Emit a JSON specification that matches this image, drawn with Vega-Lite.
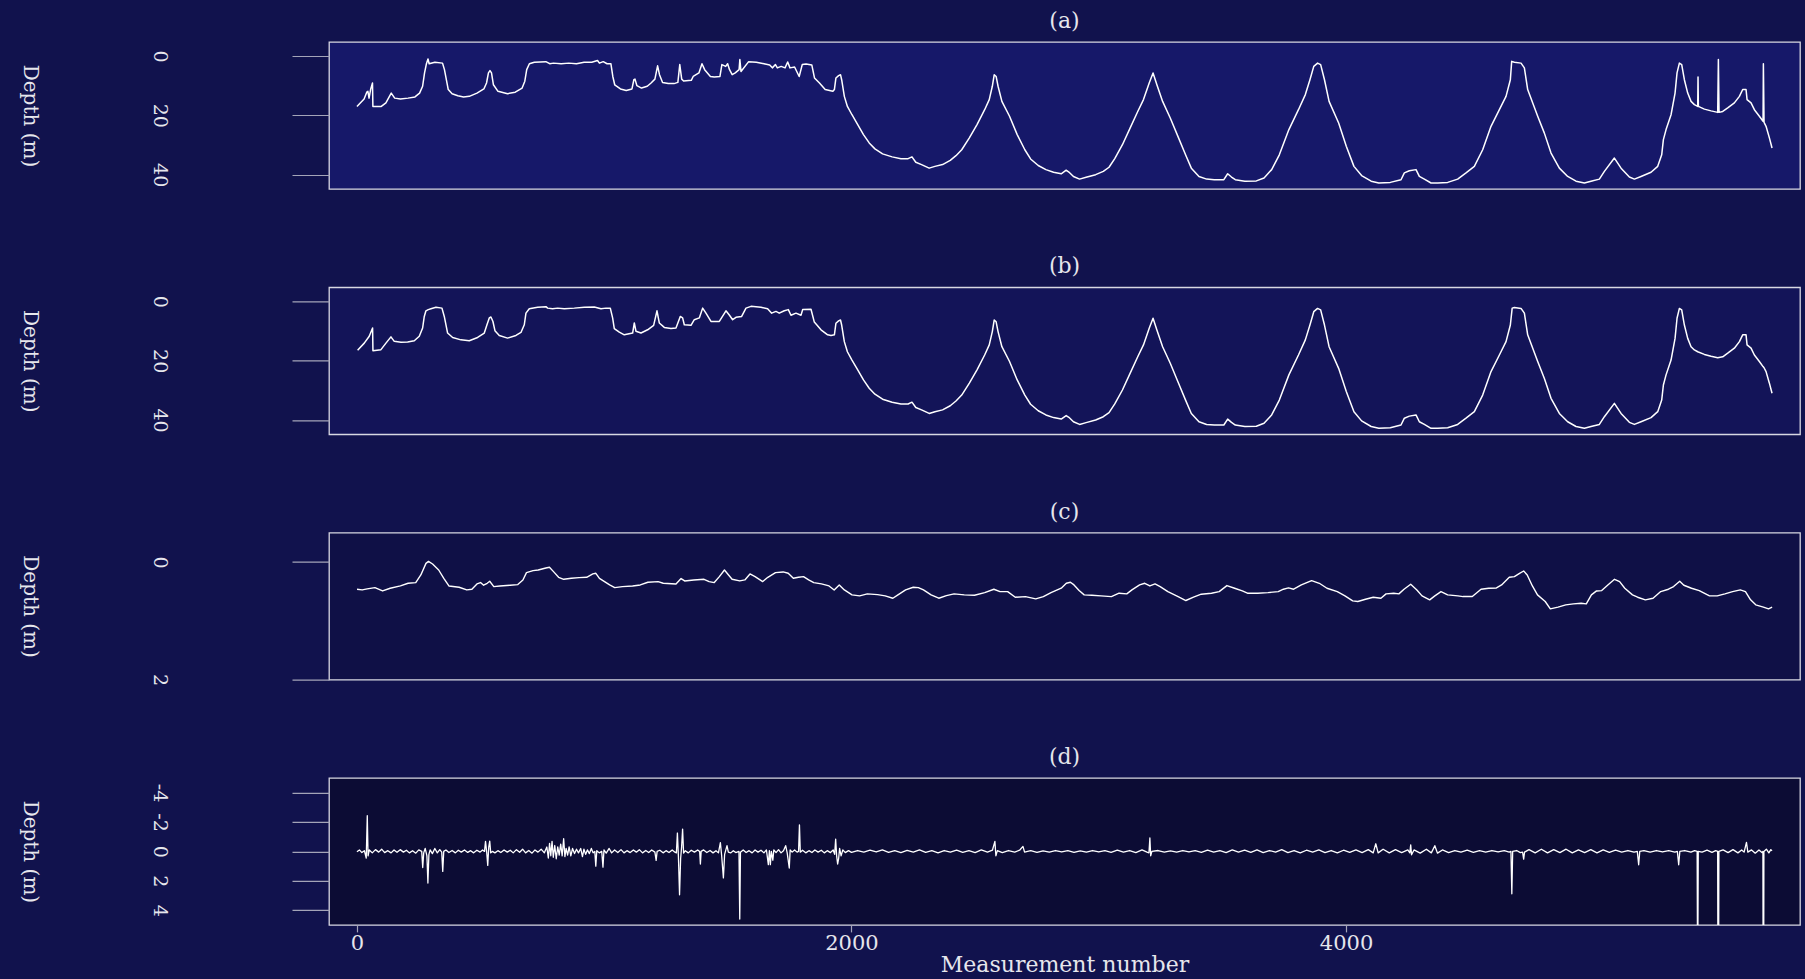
{
"$schema":"https://vega.github.io/schema/vega-lite/v6.json",
"background":"#11124d",
"autosize":{"type":"pad"},
"padding":{"left":18,"top":9,"right":5,"bottom":4},
"spacing":98.3,
"bounds":"flush",
"config":{
 "font":"DejaVu Serif",
 "axis":{"domain":false,"grid":false,"tickColor":"#a4a4b8","tickWidth":1.2,"labelColor":"#e6e6ec","titleColor":"#e6e6ec","labelFont":"DejaVu Serif","titleFont":"DejaVu Serif","labelFontSize":19,"titleFontSize":20,"titleFontWeight":"normal","labelFlush":false,"labelOverlap":false,"labelBound":false},
 "axisY":{"tickSize":37,"labelAngle":90,"labelAlign":"center","labelBaseline":"middle","labelPadding":133,"titleAngle":90,"titleX":-300,"titleY":73.5,"titleAlign":"center","titleBaseline":"middle","labelExpr":"'' + datum.value"},
 "axisX":{"tickSize":7,"labelPadding":1,"labelFontSize":21,"titleFontSize":22,"titleY":40,"titleBaseline":"middle","format":"d"},
 "title":{"font":"DejaVu Serif","fontSize":22,"fontWeight":"normal","color":"#e6e6ec","baseline":"middle","offset":9,"frame":"group","anchor":"middle"}
},
"datasets":{
"a":[{"n":0,"depth":17.0},{"n":28.9,"depth":14.5},{"n":39.7,"depth":12.2},{"n":44.3,"depth":11.9},{"n":49,"depth":14.2},{"n":55.2,"depth":11.3},{"n":62.9,"depth":9.1},{"n":64.5,"depth":17.0},{"n":98.5,"depth":17.0},{"n":117.1,"depth":15.8},{"n":138.7,"depth":12.5},{"n":152.7,"depth":14.2},{"n":175.9,"depth":14.5},{"n":206.8,"depth":14.2},{"n":234.7,"depth":13.8},{"n":253.3,"depth":12.5},{"n":265.6,"depth":10.2},{"n":273.4,"depth":5.7},{"n":281.1,"depth":2.6},{"n":287.3,"depth":1.0},{"n":292,"depth":2.6},{"n":315.2,"depth":2.1},{"n":346.1,"depth":2.4},{"n":353.9,"depth":4.6},{"n":369.3,"depth":11.3},{"n":384.8,"depth":12.7},{"n":408,"depth":13.4},{"n":431.2,"depth":13.8},{"n":454.4,"depth":13.6},{"n":485.4,"depth":12.5},{"n":513.3,"depth":11.1},{"n":524.1,"depth":9.1},{"n":531.8,"depth":5.7},{"n":538,"depth":4.9},{"n":544.2,"depth":5.7},{"n":552,"depth":9.7},{"n":570.5,"depth":11.9},{"n":609.2,"depth":12.7},{"n":640.2,"depth":12.2},{"n":668,"depth":10.8},{"n":678.9,"depth":8.5},{"n":686.6,"depth":4.6},{"n":697.4,"depth":2.6},{"n":717.5,"depth":2.1},{"n":764,"depth":1.9},{"n":779.4,"depth":2.6},{"n":794.9,"depth":2.4},{"n":825.9,"depth":2.6},{"n":856.8,"depth":2.4},{"n":887.8,"depth":2.6},{"n":918.7,"depth":2.1},{"n":949.7,"depth":2.1},{"n":972.9,"depth":1.5},{"n":980.6,"depth":2.4},{"n":996,"depth":1.9},{"n":1011.6,"depth":2.6},{"n":1027,"depth":2.6},{"n":1034.8,"depth":6.9},{"n":1042.5,"depth":9.7},{"n":1065.7,"depth":11.1},{"n":1089,"depth":11.6},{"n":1112.2,"depth":11.1},{"n":1119.9,"depth":8.0},{"n":1124.5,"depth":7.8},{"n":1132.3,"depth":10.0},{"n":1150.9,"depth":10.8},{"n":1174.1,"depth":10.2},{"n":1189.5,"depth":9.1},{"n":1205,"depth":7.8},{"n":1215.9,"depth":3.3},{"n":1223.6,"depth":6.3},{"n":1236,"depth":8.9},{"n":1259.2,"depth":9.3},{"n":1282.4,"depth":9.3},{"n":1297.9,"depth":8.9},{"n":1305.6,"depth":2.9},{"n":1313.4,"depth":7.8},{"n":1321.1,"depth":8.4},{"n":1352.1,"depth":8.2},{"n":1359.8,"depth":6.9},{"n":1383,"depth":5.7},{"n":1395.4,"depth":2.6},{"n":1406.2,"depth":4.6},{"n":1429.4,"depth":6.9},{"n":1445,"depth":7.1},{"n":1468.1,"depth":6.9},{"n":1475.9,"depth":2.9},{"n":1491.3,"depth":3.5},{"n":1499.1,"depth":2.6},{"n":1506.8,"depth":4.6},{"n":1517.6,"depth":6.3},{"n":1530,"depth":5.7},{"n":1545.5,"depth":4.6},{"n":1548.6,"depth":1.2},{"n":1553.2,"depth":5.2},{"n":1584.2,"depth":1.9},{"n":1615.1,"depth":2.1},{"n":1646.1,"depth":2.6},{"n":1669.3,"depth":3.0},{"n":1680.1,"depth":4.0},{"n":1692.5,"depth":2.9},{"n":1700.2,"depth":4.0},{"n":1715.7,"depth":3.5},{"n":1731.2,"depth":4.0},{"n":1742,"depth":2.0},{"n":1751.3,"depth":4.0},{"n":1769.9,"depth":3.7},{"n":1788.5,"depth":6.9},{"n":1800.9,"depth":2.9},{"n":1816.3,"depth":2.7},{"n":1839.5,"depth":3.0},{"n":1850.4,"depth":7.4},{"n":1870.5,"depth":9.1},{"n":1893.7,"depth":11.3},{"n":1924.7,"depth":11.9},{"n":1930.9,"depth":11.3},{"n":1937.1,"depth":7.4},{"n":1947.9,"depth":6.6},{"n":1955.6,"depth":6.3},{"n":1960.3,"depth":8.0},{"n":1971.1,"depth":13.6},{"n":1983.5,"depth":17.0},{"n":2002,"depth":19.8},{"n":2025.2,"depth":23.1},{"n":2048.5,"depth":26.5},{"n":2071.7,"depth":29.3},{"n":2094.9,"depth":31.3},{"n":2125.8,"depth":33.0},{"n":2164.5,"depth":34.0},{"n":2200.1,"depth":34.6},{"n":2229.1,"depth":34.6},{"n":2244.6,"depth":34.0},{"n":2260.1,"depth":35.8},{"n":2283.3,"depth":36.6},{"n":2314.2,"depth":37.8},{"n":2337.5,"depth":37.2},{"n":2368.4,"depth":36.6},{"n":2399.4,"depth":35.2},{"n":2422.6,"depth":33.6},{"n":2445.8,"depth":31.6},{"n":2476.7,"depth":27.6},{"n":2507.7,"depth":23.1},{"n":2538.6,"depth":18.1},{"n":2557.2,"depth":14.7},{"n":2569.6,"depth":10.2},{"n":2577.3,"depth":6.3},{"n":2585,"depth":6.9},{"n":2592.8,"depth":10.2},{"n":2608.3,"depth":15.3},{"n":2639.2,"depth":20.3},{"n":2670.2,"depth":26.5},{"n":2701.1,"depth":31.6},{"n":2724.4,"depth":34.7},{"n":2755.3,"depth":36.9},{"n":2786.3,"depth":38.3},{"n":2817.2,"depth":39.2},{"n":2848.2,"depth":39.7},{"n":2868.3,"depth":38.5},{"n":2879.1,"depth":39.1},{"n":2897.7,"depth":40.6},{"n":2922.5,"depth":41.5},{"n":2948.8,"depth":40.9},{"n":2987.5,"depth":40.0},{"n":3018.4,"depth":38.9},{"n":3041.6,"depth":37.5},{"n":3064.8,"depth":34.6},{"n":3095.8,"depth":29.9},{"n":3126.7,"depth":24.3},{"n":3157.7,"depth":18.7},{"n":3180.9,"depth":14.7},{"n":3204.1,"depth":9.1},{"n":3219.6,"depth":5.7},{"n":3235.1,"depth":9.7},{"n":3258.3,"depth":15.3},{"n":3289.2,"depth":20.9},{"n":3320.2,"depth":27.1},{"n":3351.1,"depth":33.3},{"n":3374.4,"depth":37.8},{"n":3405.3,"depth":40.6},{"n":3436.3,"depth":41.5},{"n":3467.2,"depth":41.7},{"n":3505.9,"depth":41.7},{"n":3521.4,"depth":39.7},{"n":3536.8,"depth":40.8},{"n":3552.3,"depth":41.7},{"n":3591,"depth":42.2},{"n":3637.4,"depth":42.1},{"n":3668.4,"depth":41.1},{"n":3699.3,"depth":38.3},{"n":3730.3,"depth":33.3},{"n":3769,"depth":24.8},{"n":3807.7,"depth":18.1},{"n":3835.5,"depth":13.0},{"n":3854.1,"depth":8.0},{"n":3869.6,"depth":3.5},{"n":3885,"depth":2.4},{"n":3897.4,"depth":2.9},{"n":3912.9,"depth":8.0},{"n":3931.5,"depth":15.3},{"n":3970.2,"depth":22.6},{"n":4001.1,"depth":30.4},{"n":4032.1,"depth":37.2},{"n":4063,"depth":40.3},{"n":4101.7,"depth":42.2},{"n":4132.7,"depth":42.8},{"n":4179.1,"depth":42.6},{"n":4222.4,"depth":41.7},{"n":4235.9,"depth":39.4},{"n":4256.1,"depth":38.7},{"n":4283.1,"depth":38.3},{"n":4296.6,"depth":40.6},{"n":4316.8,"depth":41.5},{"n":4343.8,"depth":42.8},{"n":4370.7,"depth":42.8},{"n":4411.2,"depth":42.6},{"n":4451.6,"depth":41.5},{"n":4485.3,"depth":39.4},{"n":4519,"depth":37.2},{"n":4552.7,"depth":31.6},{"n":4586.4,"depth":23.7},{"n":4620.2,"depth":18.1},{"n":4647.1,"depth":13.6},{"n":4664.6,"depth":8.0},{"n":4670,"depth":1.8},{"n":4680.8,"depth":2.1},{"n":4707.8,"depth":2.4},{"n":4721.3,"depth":4.0},{"n":4734.7,"depth":11.3},{"n":4775.2,"depth":20.3},{"n":4802.2,"depth":26.0},{"n":4829.1,"depth":32.7},{"n":4862.8,"depth":37.8},{"n":4896.5,"depth":40.6},{"n":4930.2,"depth":42.2},{"n":4964,"depth":42.8},{"n":4990.9,"depth":42.2},{"n":5024.6,"depth":41.5},{"n":5044.9,"depth":38.9},{"n":5085.3,"depth":34.4},{"n":5112.3,"depth":37.8},{"n":5146,"depth":40.8},{"n":5166.2,"depth":41.5},{"n":5193.1,"depth":40.6},{"n":5233.6,"depth":39.2},{"n":5260.6,"depth":37.2},{"n":5276.7,"depth":33.3},{"n":5283.5,"depth":28.2},{"n":5294.3,"depth":24.8},{"n":5314.5,"depth":19.8},{"n":5330.7,"depth":12.5},{"n":5338.7,"depth":5.7},{"n":5348.2,"depth":2.4},{"n":5357.6,"depth":2.9},{"n":5368.4,"depth":8.0},{"n":5381.9,"depth":12.5},{"n":5395.4,"depth":15.3},{"n":5408.8,"depth":16.4},{"n":5422.3,"depth":17.0},{"n":5423.6,"depth":7.1},{"n":5425,"depth":17.0},{"n":5449.3,"depth":17.9},{"n":5476.3,"depth":18.5},{"n":5503.2,"depth":19.0},{"n":5505.9,"depth":1.2},{"n":5508.6,"depth":19.0},{"n":5523.5,"depth":18.7},{"n":5543.7,"depth":17.5},{"n":5570.6,"depth":15.8},{"n":5590.9,"depth":13.6},{"n":5604.3,"depth":11.3},{"n":5617.8,"depth":11.3},{"n":5621.9,"depth":14.7},{"n":5638,"depth":15.8},{"n":5651.5,"depth":18.1},{"n":5671.7,"depth":20.3},{"n":5686.6,"depth":22.0},{"n":5687.9,"depth":2.6},{"n":5690.6,"depth":22.4},{"n":5698.7,"depth":23.7},{"n":5712.2,"depth":27.6},{"n":5722.9,"depth":31.0}],
"b":[{"n":2.7,"depth":16.5},{"n":29.6,"depth":14.1},{"n":49.8,"depth":11.8},{"n":63.3,"depth":9.0},{"n":64.7,"depth":16.7},{"n":97,"depth":16.3},{"n":117.3,"depth":14.1},{"n":137.5,"depth":12.0},{"n":151,"depth":13.5},{"n":178,"depth":13.8},{"n":205,"depth":13.7},{"n":231.9,"depth":13.3},{"n":252.1,"depth":11.8},{"n":265.6,"depth":9.0},{"n":272.3,"depth":5.1},{"n":279,"depth":3.2},{"n":288.5,"depth":2.8},{"n":299.3,"depth":2.5},{"n":319.5,"depth":2.0},{"n":343.8,"depth":2.3},{"n":353.2,"depth":5.1},{"n":366.7,"depth":10.7},{"n":387,"depth":12.2},{"n":420.6,"depth":13.0},{"n":454.3,"depth":13.3},{"n":488,"depth":12.2},{"n":515,"depth":10.7},{"n":525.8,"depth":7.9},{"n":535.2,"depth":5.6},{"n":541.9,"depth":5.3},{"n":550,"depth":6.8},{"n":558.1,"depth":9.9},{"n":575.6,"depth":11.5},{"n":609.3,"depth":12.4},{"n":643,"depth":11.5},{"n":663.3,"depth":10.5},{"n":676.8,"depth":7.9},{"n":683.5,"depth":4.0},{"n":697,"depth":2.5},{"n":730.7,"depth":2.0},{"n":764.4,"depth":1.8},{"n":771.1,"depth":2.3},{"n":791.3,"depth":2.5},{"n":811.6,"depth":2.3},{"n":838.5,"depth":2.5},{"n":879,"depth":2.3},{"n":919.4,"depth":2.0},{"n":959.9,"depth":1.9},{"n":986.9,"depth":2.5},{"n":1007,"depth":2.3},{"n":1024.6,"depth":2.3},{"n":1034,"depth":5.6},{"n":1040.8,"depth":9.2},{"n":1061,"depth":10.4},{"n":1081.2,"depth":11.3},{"n":1115,"depth":10.7},{"n":1121.7,"depth":7.3},{"n":1128.4,"depth":10.1},{"n":1148.7,"depth":10.7},{"n":1175.6,"depth":9.6},{"n":1199.9,"depth":8.1},{"n":1213.4,"depth":3.2},{"n":1222.8,"depth":7.3},{"n":1243,"depth":8.8},{"n":1270,"depth":9.2},{"n":1290.3,"depth":9.0},{"n":1307.7,"depth":5.1},{"n":1317.1,"depth":5.6},{"n":1323.9,"depth":7.9},{"n":1350.9,"depth":8.1},{"n":1364.3,"depth":6.2},{"n":1384.6,"depth":5.6},{"n":1398.1,"depth":2.3},{"n":1411.5,"depth":4.0},{"n":1431.8,"depth":6.8},{"n":1465.5,"depth":6.8},{"n":1492.4,"depth":3.2},{"n":1505.9,"depth":4.6},{"n":1519.4,"depth":6.2},{"n":1532.9,"depth":5.4},{"n":1555.8,"depth":5.1},{"n":1573.3,"depth":2.3},{"n":1593.6,"depth":1.7},{"n":1634,"depth":2.0},{"n":1660.9,"depth":2.5},{"n":1677.2,"depth":4.0},{"n":1694.6,"depth":3.4},{"n":1708.1,"depth":4.0},{"n":1728.4,"depth":3.2},{"n":1744.6,"depth":2.8},{"n":1755.3,"depth":4.7},{"n":1775.5,"depth":4.0},{"n":1795.8,"depth":4.7},{"n":1802.6,"depth":2.8},{"n":1836.3,"depth":2.7},{"n":1849.7,"depth":7.0},{"n":1876.7,"depth":9.6},{"n":1903.7,"depth":11.3},{"n":1917.2,"depth":11.5},{"n":1930.9,"depth":11.3},{"n":1937.1,"depth":7.4},{"n":1947.9,"depth":6.6},{"n":1955.6,"depth":6.3},{"n":1960.3,"depth":8.0},{"n":1971.1,"depth":13.6},{"n":1983.5,"depth":17.0},{"n":2002,"depth":19.8},{"n":2025.2,"depth":23.1},{"n":2048.5,"depth":26.5},{"n":2071.7,"depth":29.3},{"n":2094.9,"depth":31.3},{"n":2125.8,"depth":33.0},{"n":2164.5,"depth":34.0},{"n":2200.1,"depth":34.6},{"n":2229.1,"depth":34.6},{"n":2244.6,"depth":34.0},{"n":2260.1,"depth":35.8},{"n":2283.3,"depth":36.6},{"n":2314.2,"depth":37.8},{"n":2337.5,"depth":37.2},{"n":2368.4,"depth":36.6},{"n":2399.4,"depth":35.2},{"n":2422.6,"depth":33.6},{"n":2445.8,"depth":31.6},{"n":2476.7,"depth":27.6},{"n":2507.7,"depth":23.1},{"n":2538.6,"depth":18.1},{"n":2557.2,"depth":14.7},{"n":2569.6,"depth":10.2},{"n":2577.3,"depth":6.3},{"n":2585,"depth":6.9},{"n":2592.8,"depth":10.2},{"n":2608.3,"depth":15.3},{"n":2639.2,"depth":20.3},{"n":2670.2,"depth":26.5},{"n":2701.1,"depth":31.6},{"n":2724.4,"depth":34.7},{"n":2755.3,"depth":36.9},{"n":2786.3,"depth":38.3},{"n":2817.2,"depth":39.2},{"n":2848.2,"depth":39.7},{"n":2868.3,"depth":38.5},{"n":2879.1,"depth":39.1},{"n":2897.7,"depth":40.6},{"n":2922.5,"depth":41.5},{"n":2948.8,"depth":40.9},{"n":2987.5,"depth":40.0},{"n":3018.4,"depth":38.9},{"n":3041.6,"depth":37.5},{"n":3064.8,"depth":34.6},{"n":3095.8,"depth":29.9},{"n":3126.7,"depth":24.3},{"n":3157.7,"depth":18.7},{"n":3180.9,"depth":14.7},{"n":3204.1,"depth":9.1},{"n":3219.6,"depth":5.7},{"n":3235.1,"depth":9.7},{"n":3258.3,"depth":15.3},{"n":3289.2,"depth":20.9},{"n":3320.2,"depth":27.1},{"n":3351.1,"depth":33.3},{"n":3374.4,"depth":37.8},{"n":3405.3,"depth":40.6},{"n":3436.3,"depth":41.5},{"n":3467.2,"depth":41.7},{"n":3505.9,"depth":41.7},{"n":3521.4,"depth":39.7},{"n":3536.8,"depth":40.8},{"n":3552.3,"depth":41.7},{"n":3591,"depth":42.2},{"n":3637.4,"depth":42.1},{"n":3668.4,"depth":41.1},{"n":3699.3,"depth":38.3},{"n":3730.3,"depth":33.3},{"n":3769,"depth":24.8},{"n":3807.7,"depth":18.1},{"n":3835.5,"depth":13.0},{"n":3854.1,"depth":8.0},{"n":3869.6,"depth":3.5},{"n":3885,"depth":2.4},{"n":3897.4,"depth":2.9},{"n":3912.9,"depth":8.0},{"n":3931.5,"depth":15.3},{"n":3970.2,"depth":22.6},{"n":4001.1,"depth":30.4},{"n":4032.1,"depth":37.2},{"n":4063,"depth":40.3},{"n":4101.7,"depth":42.2},{"n":4132.7,"depth":42.8},{"n":4179.1,"depth":42.6},{"n":4222.4,"depth":41.7},{"n":4235.9,"depth":39.4},{"n":4256.1,"depth":38.7},{"n":4283.1,"depth":38.3},{"n":4296.6,"depth":40.6},{"n":4316.8,"depth":41.5},{"n":4343.8,"depth":42.8},{"n":4370.7,"depth":42.8},{"n":4411.2,"depth":42.6},{"n":4451.6,"depth":41.5},{"n":4485.3,"depth":39.4},{"n":4519,"depth":37.2},{"n":4552.7,"depth":31.6},{"n":4586.4,"depth":23.7},{"n":4620.2,"depth":18.1},{"n":4647.1,"depth":13.6},{"n":4664.6,"depth":8.0},{"n":4672,"depth":2.3},{"n":4680.8,"depth":2.1},{"n":4707.8,"depth":2.4},{"n":4721.3,"depth":4.0},{"n":4734.7,"depth":11.3},{"n":4775.2,"depth":20.3},{"n":4802.2,"depth":26.0},{"n":4829.1,"depth":32.7},{"n":4862.8,"depth":37.8},{"n":4896.5,"depth":40.6},{"n":4930.2,"depth":42.2},{"n":4964,"depth":42.8},{"n":4990.9,"depth":42.2},{"n":5024.6,"depth":41.5},{"n":5044.9,"depth":38.9},{"n":5085.3,"depth":34.4},{"n":5112.3,"depth":37.8},{"n":5146,"depth":40.8},{"n":5166.2,"depth":41.5},{"n":5193.1,"depth":40.6},{"n":5233.6,"depth":39.2},{"n":5260.6,"depth":37.2},{"n":5276.7,"depth":33.3},{"n":5283.5,"depth":28.2},{"n":5294.3,"depth":24.8},{"n":5314.5,"depth":19.8},{"n":5330.7,"depth":12.5},{"n":5338.7,"depth":5.7},{"n":5348.2,"depth":2.4},{"n":5357.6,"depth":2.9},{"n":5368.4,"depth":8.0},{"n":5381.9,"depth":12.5},{"n":5395.4,"depth":15.3},{"n":5408.8,"depth":16.4},{"n":5422.3,"depth":17.0},{"n":5449.3,"depth":17.9},{"n":5476.3,"depth":18.5},{"n":5503.2,"depth":19.0},{"n":5523.5,"depth":18.7},{"n":5543.7,"depth":17.5},{"n":5570.6,"depth":15.8},{"n":5590.9,"depth":13.6},{"n":5604.3,"depth":11.3},{"n":5617.8,"depth":11.3},{"n":5621.9,"depth":14.7},{"n":5638,"depth":15.8},{"n":5651.5,"depth":18.1},{"n":5671.7,"depth":20.3},{"n":5686.6,"depth":22.0},{"n":5690.6,"depth":22.4},{"n":5698.7,"depth":23.7},{"n":5712.2,"depth":27.6},{"n":5722.9,"depth":31.0}],
"c":[{"n":0.5,"depth":0.463},{"n":21.1,"depth":0.475},{"n":41.8,"depth":0.458},{"n":72.7,"depth":0.435},{"n":103.7,"depth":0.492},{"n":134.6,"depth":0.446},{"n":175.9,"depth":0.407},{"n":206.9,"depth":0.362},{"n":237.8,"depth":0.35},{"n":258.4,"depth":0.22},{"n":279.1,"depth":0.023},{"n":289.4,"depth":-0.011},{"n":305.9,"depth":0.034},{"n":330.6,"depth":0.136},{"n":351.3,"depth":0.277},{"n":371.9,"depth":0.407},{"n":413.2,"depth":0.429},{"n":444.2,"depth":0.475},{"n":464.8,"depth":0.463},{"n":485.4,"depth":0.373},{"n":499.9,"depth":0.35},{"n":512.3,"depth":0.395},{"n":526.7,"depth":0.362},{"n":537,"depth":0.328},{"n":553.5,"depth":0.418},{"n":578.3,"depth":0.407},{"n":619.8,"depth":0.395},{"n":650.5,"depth":0.384},{"n":671.2,"depth":0.305},{"n":685.6,"depth":0.181},{"n":712.4,"depth":0.147},{"n":733.1,"depth":0.136},{"n":764,"depth":0.102},{"n":778.5,"depth":0.09},{"n":795,"depth":0.164},{"n":815.6,"depth":0.26},{"n":836.3,"depth":0.294},{"n":867.2,"depth":0.277},{"n":898.2,"depth":0.266},{"n":929.1,"depth":0.26},{"n":953.9,"depth":0.203},{"n":966.3,"depth":0.192},{"n":980.7,"depth":0.277},{"n":1001.3,"depth":0.333},{"n":1022,"depth":0.39},{"n":1042.6,"depth":0.435},{"n":1073.6,"depth":0.418},{"n":1114.8,"depth":0.407},{"n":1145.8,"depth":0.39},{"n":1176.7,"depth":0.345},{"n":1218,"depth":0.333},{"n":1238.7,"depth":0.362},{"n":1290.2,"depth":0.373},{"n":1310.9,"depth":0.282},{"n":1325.3,"depth":0.322},{"n":1362.5,"depth":0.305},{"n":1403.7,"depth":0.294},{"n":1424.4,"depth":0.333},{"n":1445,"depth":0.35},{"n":1465.7,"depth":0.249},{"n":1486.3,"depth":0.136},{"n":1502.8,"depth":0.22},{"n":1517.2,"depth":0.294},{"n":1548.2,"depth":0.322},{"n":1568.8,"depth":0.305},{"n":1589.5,"depth":0.203},{"n":1610.1,"depth":0.249},{"n":1641.1,"depth":0.333},{"n":1661.7,"depth":0.26},{"n":1692.7,"depth":0.181},{"n":1723.6,"depth":0.169},{"n":1744.2,"depth":0.192},{"n":1764.9,"depth":0.277},{"n":1785.5,"depth":0.26},{"n":1806.1,"depth":0.249},{"n":1826.8,"depth":0.305},{"n":1847.4,"depth":0.35},{"n":1878.4,"depth":0.373},{"n":1909.3,"depth":0.407},{"n":1930,"depth":0.475},{"n":1950.6,"depth":0.39},{"n":1971.2,"depth":0.475},{"n":2002.2,"depth":0.559},{"n":2033.1,"depth":0.576},{"n":2064.1,"depth":0.542},{"n":2105.4,"depth":0.554},{"n":2136.3,"depth":0.576},{"n":2167.3,"depth":0.616},{"n":2187.9,"depth":0.559},{"n":2218.9,"depth":0.475},{"n":2249.8,"depth":0.429},{"n":2270.5,"depth":0.435},{"n":2291.1,"depth":0.475},{"n":2322,"depth":0.559},{"n":2353,"depth":0.616},{"n":2383.9,"depth":0.571},{"n":2414.9,"depth":0.542},{"n":2456.2,"depth":0.559},{"n":2497.5,"depth":0.565},{"n":2538.7,"depth":0.52},{"n":2575.9,"depth":0.463},{"n":2600.6,"depth":0.503},{"n":2631.6,"depth":0.503},{"n":2662.5,"depth":0.599},{"n":2703.8,"depth":0.588},{"n":2745.1,"depth":0.627},{"n":2776,"depth":0.588},{"n":2807,"depth":0.52},{"n":2848.3,"depth":0.446},{"n":2868.9,"depth":0.362},{"n":2885.5,"depth":0.345},{"n":2899.9,"depth":0.39},{"n":2920.5,"depth":0.486},{"n":2941.1,"depth":0.559},{"n":2972.1,"depth":0.565},{"n":3009.2,"depth":0.576},{"n":3051.1,"depth":0.588},{"n":3082.2,"depth":0.531},{"n":3113.4,"depth":0.542},{"n":3134.2,"depth":0.475},{"n":3165.3,"depth":0.39},{"n":3186.1,"depth":0.362},{"n":3206.8,"depth":0.407},{"n":3227.6,"depth":0.373},{"n":3248.4,"depth":0.418},{"n":3279.5,"depth":0.503},{"n":3321,"depth":0.588},{"n":3352.2,"depth":0.655},{"n":3383.3,"depth":0.599},{"n":3414.5,"depth":0.548},{"n":3456,"depth":0.531},{"n":3487.1,"depth":0.503},{"n":3518.3,"depth":0.401},{"n":3549.4,"depth":0.446},{"n":3580.6,"depth":0.492},{"n":3601.3,"depth":0.531},{"n":3642.9,"depth":0.531},{"n":3684.4,"depth":0.52},{"n":3725.9,"depth":0.503},{"n":3746.7,"depth":0.463},{"n":3767.4,"depth":0.441},{"n":3788.2,"depth":0.463},{"n":3819.3,"depth":0.39},{"n":3860.9,"depth":0.316},{"n":3892,"depth":0.362},{"n":3923.1,"depth":0.446},{"n":3964.7,"depth":0.503},{"n":3995.8,"depth":0.576},{"n":4027,"depth":0.661},{"n":4047.7,"depth":0.672},{"n":4078.9,"depth":0.633},{"n":4110,"depth":0.599},{"n":4141.2,"depth":0.616},{"n":4161.9,"depth":0.542},{"n":4193.1,"depth":0.531},{"n":4213.8,"depth":0.542},{"n":4234.6,"depth":0.463},{"n":4261.6,"depth":0.379},{"n":4286.5,"depth":0.475},{"n":4307.3,"depth":0.576},{"n":4338.4,"depth":0.644},{"n":4359.2,"depth":0.576},{"n":4384.1,"depth":0.503},{"n":4411.1,"depth":0.559},{"n":4452.6,"depth":0.576},{"n":4473.4,"depth":0.588},{"n":4510.7,"depth":0.588},{"n":4546,"depth":0.463},{"n":4577.2,"depth":0.446},{"n":4608.3,"depth":0.441},{"n":4629.1,"depth":0.39},{"n":4660.2,"depth":0.26},{"n":4681,"depth":0.249},{"n":4701.8,"depth":0.192},{"n":4718.4,"depth":0.153},{"n":4732.9,"depth":0.22},{"n":4753.7,"depth":0.407},{"n":4774.4,"depth":0.559},{"n":4805.6,"depth":0.672},{"n":4826.3,"depth":0.797},{"n":4857.5,"depth":0.768},{"n":4888.6,"depth":0.729},{"n":4919.8,"depth":0.712},{"n":4950.9,"depth":0.701},{"n":4971.7,"depth":0.712},{"n":4992.4,"depth":0.559},{"n":5013.2,"depth":0.492},{"n":5034,"depth":0.486},{"n":5058.9,"depth":0.39},{"n":5085.9,"depth":0.294},{"n":5106.6,"depth":0.333},{"n":5127.4,"depth":0.446},{"n":5158.5,"depth":0.559},{"n":5179.3,"depth":0.599},{"n":5210.5,"depth":0.644},{"n":5241.6,"depth":0.616},{"n":5272.8,"depth":0.503},{"n":5303.9,"depth":0.463},{"n":5324.7,"depth":0.418},{"n":5349.6,"depth":0.328},{"n":5366.2,"depth":0.395},{"n":5397.3,"depth":0.446},{"n":5428.5,"depth":0.486},{"n":5470,"depth":0.576},{"n":5501.1,"depth":0.576},{"n":5532.3,"depth":0.542},{"n":5563.4,"depth":0.503},{"n":5594.6,"depth":0.475},{"n":5615.4,"depth":0.503},{"n":5636.1,"depth":0.644},{"n":5656.9,"depth":0.729},{"n":5688,"depth":0.768},{"n":5708.8,"depth":0.797},{"n":5723.3,"depth":0.768}],
"d":[{"n":0,"depth":0.02},{"n":10,"depth":-0.1},{"n":20,"depth":0.08},{"n":30,"depth":-0.05},{"n":37.6,"depth":0.45},{"n":41.8,"depth":-2.43},{"n":45,"depth":0.3},{"n":50,"depth":-0.1},{"n":62,"depth":0.1},{"n":75,"depth":-0.12},{"n":88,"depth":0.05},{"n":100,"depth":-0.15},{"n":112,"depth":0.08},{"n":125,"depth":-0.05},{"n":138,"depth":0.1},{"n":150,"depth":-0.1},{"n":162,"depth":0.06},{"n":175,"depth":-0.12},{"n":188,"depth":0.05},{"n":200,"depth":-0.08},{"n":212,"depth":0.1},{"n":225,"depth":-0.05},{"n":238,"depth":0.12},{"n":250,"depth":-0.1},{"n":262,"depth":0.0},{"n":266,"depth":1.1},{"n":270,"depth":0.1},{"n":276,"depth":-0.2},{"n":283,"depth":0.3},{"n":287,"depth":2.15},{"n":291,"depth":0.2},{"n":296,"depth":-0.1},{"n":305,"depth":0.15},{"n":315,"depth":-0.2},{"n":325,"depth":0.1},{"n":335,"depth":-0.12},{"n":343,"depth":0.05},{"n":347,"depth":1.36},{"n":351,"depth":0.0},{"n":360,"depth":-0.1},{"n":372,"depth":0.08},{"n":385,"depth":-0.06},{"n":398,"depth":0.1},{"n":410,"depth":-0.08},{"n":422,"depth":0.05},{"n":435,"depth":-0.1},{"n":448,"depth":0.07},{"n":460,"depth":-0.05},{"n":472,"depth":0.1},{"n":485,"depth":-0.08},{"n":498,"depth":0.05},{"n":508,"depth":-0.1},{"n":516,"depth":0.0},{"n":520,"depth":-0.68},{"n":525,"depth":0.1},{"n":529,"depth":0.95},{"n":533,"depth":-0.3},{"n":537,"depth":-0.7},{"n":541,"depth":0.1},{"n":548,"depth":0.0},{"n":558,"depth":0.1},{"n":570,"depth":-0.05},{"n":582,"depth":0.08},{"n":595,"depth":-0.1},{"n":608,"depth":0.05},{"n":620,"depth":-0.08},{"n":632,"depth":0.1},{"n":645,"depth":-0.12},{"n":658,"depth":0.06},{"n":670,"depth":-0.15},{"n":682,"depth":0.1},{"n":695,"depth":-0.06},{"n":708,"depth":0.12},{"n":720,"depth":-0.1},{"n":732,"depth":0.05},{"n":745,"depth":-0.15},{"n":758,"depth":0.1},{"n":768,"depth":-0.3},{"n":774,"depth":0.45},{"n":779,"depth":-0.55},{"n":784,"depth":0.3},{"n":789,"depth":-0.68},{"n":794,"depth":0.4},{"n":800,"depth":-0.4},{"n":806,"depth":0.5},{"n":812,"depth":-0.3},{"n":818,"depth":0.25},{"n":824,"depth":-0.5},{"n":830,"depth":0.3},{"n":836,"depth":-0.86},{"n":841,"depth":0.35},{"n":846,"depth":-0.2},{"n":852,"depth":0.25},{"n":858,"depth":-0.3},{"n":865,"depth":0.3},{"n":872,"depth":-0.2},{"n":880,"depth":0.15},{"n":888,"depth":-0.15},{"n":896,"depth":0.1},{"n":905,"depth":-0.2},{"n":912,"depth":0.35},{"n":918,"depth":-0.15},{"n":925,"depth":0.2},{"n":932,"depth":-0.1},{"n":940,"depth":0.15},{"n":948,"depth":-0.2},{"n":955,"depth":0.1},{"n":962,"depth":0.0},{"n":966,"depth":1.0},{"n":970,"depth":-0.05},{"n":980,"depth":0.1},{"n":990,"depth":0.0},{"n":995,"depth":1.07},{"n":999,"depth":-0.1},{"n":1008,"depth":0.12},{"n":1020,"depth":-0.2},{"n":1030,"depth":0.1},{"n":1042,"depth":-0.1},{"n":1055,"depth":0.08},{"n":1068,"depth":-0.12},{"n":1080,"depth":0.1},{"n":1092,"depth":-0.05},{"n":1105,"depth":0.08},{"n":1118,"depth":-0.1},{"n":1130,"depth":0.05},{"n":1142,"depth":-0.12},{"n":1155,"depth":0.1},{"n":1168,"depth":-0.06},{"n":1180,"depth":0.08},{"n":1192,"depth":-0.1},{"n":1205,"depth":0.05},{"n":1210,"depth":0.61},{"n":1214,"depth":0.0},{"n":1225,"depth":-0.08},{"n":1238,"depth":0.1},{"n":1250,"depth":-0.05},{"n":1262,"depth":0.08},{"n":1275,"depth":-0.1},{"n":1286,"depth":0.05},{"n":1292,"depth":0.1},{"n":1296,"depth":-1.25},{"n":1300,"depth":0.3},{"n":1304.7,"depth":2.95},{"n":1309,"depth":0.5},{"n":1313,"depth":-0.3},{"n":1317,"depth":-1.52},{"n":1321,"depth":0.11},{"n":1328,"depth":-0.05},{"n":1340,"depth":0.1},{"n":1352,"depth":-0.08},{"n":1365,"depth":0.05},{"n":1378,"depth":-0.1},{"n":1386,"depth":0.0},{"n":1389,"depth":0.86},{"n":1392,"depth":0.0},{"n":1402,"depth":-0.1},{"n":1415,"depth":0.08},{"n":1428,"depth":-0.06},{"n":1440,"depth":0.1},{"n":1452,"depth":-0.05},{"n":1462,"depth":0.1},{"n":1469.8,"depth":-0.6},{"n":1475,"depth":0.3},{"n":1482,"depth":1.8},{"n":1487,"depth":0.2},{"n":1496.6,"depth":-0.39},{"n":1502,"depth":0.05},{"n":1512,"depth":0.1},{"n":1522,"depth":-0.05},{"n":1532,"depth":0.08},{"n":1545,"depth":0.0},{"n":1548.2,"depth":4.6},{"n":1551,"depth":0.05},{"n":1562,"depth":-0.1},{"n":1574,"depth":0.08},{"n":1586,"depth":-0.05},{"n":1598,"depth":0.1},{"n":1610,"depth":-0.1},{"n":1622,"depth":0.05},{"n":1634,"depth":-0.08},{"n":1646,"depth":0.1},{"n":1656,"depth":-0.1},{"n":1663.8,"depth":0.9},{"n":1668,"depth":-0.05},{"n":1672,"depth":0.9},{"n":1676,"depth":0.0},{"n":1682,"depth":0.6},{"n":1686,"depth":-0.1},{"n":1695,"depth":0.08},{"n":1705,"depth":-0.12},{"n":1715,"depth":0.1},{"n":1725,"depth":-0.05},{"n":1733.9,"depth":-0.39},{"n":1740,"depth":0.1},{"n":1748.4,"depth":1.13},{"n":1752,"depth":-0.1},{"n":1760,"depth":0.05},{"n":1770,"depth":-0.1},{"n":1780,"depth":0.05},{"n":1786,"depth":0.0},{"n":1789.6,"depth":-1.81},{"n":1793,"depth":0.05},{"n":1802,"depth":-0.08},{"n":1815,"depth":0.1},{"n":1828,"depth":-0.05},{"n":1840,"depth":0.08},{"n":1852,"depth":-0.1},{"n":1865,"depth":0.05},{"n":1878,"depth":-0.08},{"n":1890,"depth":0.1},{"n":1902,"depth":-0.05},{"n":1915,"depth":0.08},{"n":1926,"depth":-0.1},{"n":1932,"depth":0.2},{"n":1936,"depth":-0.84},{"n":1940,"depth":0.3},{"n":1944,"depth":0.86},{"n":1948,"depth":0.5},{"n":1952,"depth":-0.2},{"n":1958,"depth":0.3},{"n":1965,"depth":-0.1},{"n":1975,"depth":0.08},{"n":1988,"depth":-0.05},{"n":2000,"depth":0.07},{"n":2025,"depth":-0.06},{"n":2050,"depth":0.05},{"n":2075,"depth":-0.08},{"n":2100,"depth":0.04},{"n":2125,"depth":-0.1},{"n":2150,"depth":0.06},{"n":2175,"depth":-0.05},{"n":2200,"depth":0.08},{"n":2225,"depth":-0.07},{"n":2250,"depth":0.05},{"n":2275,"depth":-0.1},{"n":2300,"depth":0.06},{"n":2325,"depth":-0.05},{"n":2350,"depth":0.1},{"n":2375,"depth":-0.06},{"n":2400,"depth":0.05},{"n":2425,"depth":-0.08},{"n":2450,"depth":0.06},{"n":2475,"depth":-0.05},{"n":2500,"depth":0.08},{"n":2525,"depth":-0.1},{"n":2550,"depth":0.05},{"n":2570,"depth":-0.08},{"n":2580,"depth":-0.68},{"n":2584,"depth":0.3},{"n":2590,"depth":-0.05},{"n":2610,"depth":0.08},{"n":2635,"depth":-0.06},{"n":2660,"depth":0.05},{"n":2680,"depth":-0.08},{"n":2693.5,"depth":-0.34},{"n":2700,"depth":0.05},{"n":2725,"depth":-0.05},{"n":2750,"depth":0.06},{"n":2775,"depth":-0.04},{"n":2800,"depth":0.05},{"n":2825,"depth":-0.06},{"n":2850,"depth":0.04},{"n":2875,"depth":-0.05},{"n":2900,"depth":0.06},{"n":2925,"depth":-0.04},{"n":2950,"depth":0.05},{"n":2975,"depth":-0.06},{"n":3000,"depth":0.04},{"n":3025,"depth":-0.05},{"n":3050,"depth":0.06},{"n":3075,"depth":-0.08},{"n":3100,"depth":0.05},{"n":3125,"depth":-0.06},{"n":3150,"depth":0.08},{"n":3175,"depth":-0.1},{"n":3195,"depth":0.05},{"n":3203,"depth":0.1},{"n":3206.8,"depth":-0.91},{"n":3210,"depth":0.3},{"n":3215,"depth":0.0},{"n":3240,"depth":-0.06},{"n":3265,"depth":0.05},{"n":3290,"depth":-0.04},{"n":3315,"depth":0.05},{"n":3340,"depth":-0.06},{"n":3365,"depth":0.04},{"n":3390,"depth":-0.05},{"n":3415,"depth":0.06},{"n":3440,"depth":-0.08},{"n":3465,"depth":0.05},{"n":3490,"depth":-0.06},{"n":3515,"depth":0.08},{"n":3540,"depth":-0.1},{"n":3565,"depth":0.05},{"n":3590,"depth":-0.08},{"n":3615,"depth":0.06},{"n":3640,"depth":-0.1},{"n":3665,"depth":0.08},{"n":3690,"depth":-0.06},{"n":3715,"depth":0.05},{"n":3740,"depth":-0.12},{"n":3765,"depth":0.08},{"n":3790,"depth":-0.06},{"n":3815,"depth":0.1},{"n":3840,"depth":-0.08},{"n":3865,"depth":0.05},{"n":3890,"depth":-0.1},{"n":3915,"depth":0.08},{"n":3940,"depth":-0.06},{"n":3965,"depth":0.1},{"n":3990,"depth":-0.08},{"n":4015,"depth":0.06},{"n":4040,"depth":-0.1},{"n":4065,"depth":0.08},{"n":4090,"depth":-0.12},{"n":4110,"depth":0.1},{"n":4120.4,"depth":-0.52},{"n":4130,"depth":0.1},{"n":4150,"depth":-0.15},{"n":4175,"depth":0.1},{"n":4200,"depth":-0.12},{"n":4225,"depth":0.08},{"n":4250,"depth":-0.1},{"n":4258,"depth":0.1},{"n":4261.6,"depth":-0.45},{"n":4265,"depth":0.23},{"n":4275,"depth":-0.1},{"n":4300,"depth":0.12},{"n":4325,"depth":-0.15},{"n":4345,"depth":0.1},{"n":4359.2,"depth":-0.39},{"n":4370,"depth":0.12},{"n":4390,"depth":-0.1},{"n":4415,"depth":0.08},{"n":4440,"depth":-0.06},{"n":4465,"depth":0.05},{"n":4490,"depth":-0.08},{"n":4515,"depth":0.06},{"n":4540,"depth":-0.05},{"n":4565,"depth":0.05},{"n":4590,"depth":-0.06},{"n":4615,"depth":0.04},{"n":4640,"depth":-0.05},{"n":4660,"depth":0.05},{"n":4667,"depth":0.0},{"n":4670.6,"depth":2.88},{"n":4674,"depth":0.0},{"n":4690,"depth":-0.06},{"n":4705,"depth":0.08},{"n":4714,"depth":0.05},{"n":4718.4,"depth":0.52},{"n":4722,"depth":0.05},{"n":4740,"depth":-0.12},{"n":4765,"depth":0.1},{"n":4790,"depth":-0.15},{"n":4815,"depth":0.1},{"n":4840,"depth":-0.12},{"n":4865,"depth":0.08},{"n":4890,"depth":-0.15},{"n":4915,"depth":0.1},{"n":4940,"depth":-0.1},{"n":4965,"depth":0.08},{"n":4990,"depth":-0.12},{"n":5015,"depth":0.1},{"n":5040,"depth":-0.1},{"n":5065,"depth":0.06},{"n":5090,"depth":-0.08},{"n":5115,"depth":0.05},{"n":5140,"depth":-0.06},{"n":5165,"depth":0.05},{"n":5178,"depth":0.0},{"n":5183.5,"depth":0.91},{"n":5188,"depth":0.0},{"n":5205,"depth":-0.05},{"n":5230,"depth":0.05},{"n":5255,"depth":-0.06},{"n":5280,"depth":0.04},{"n":5305,"depth":-0.05},{"n":5330,"depth":0.05},{"n":5340,"depth":0.0},{"n":5345.4,"depth":0.91},{"n":5350,"depth":0.0},{"n":5370,"depth":-0.06},{"n":5395,"depth":0.05},{"n":5410,"depth":-0.05},{"n":5420,"depth":0.0},{"n":5422.2,"depth":9.9},{"n":5424.5,"depth":0.0},{"n":5440,"depth":0.05},{"n":5460,"depth":-0.08},{"n":5480,"depth":0.06},{"n":5495,"depth":-0.05},{"n":5503,"depth":0.0},{"n":5505.3,"depth":17.8},{"n":5508,"depth":0.0},{"n":5525,"depth":-0.1},{"n":5545,"depth":0.08},{"n":5565,"depth":-0.12},{"n":5585,"depth":0.1},{"n":5600,"depth":-0.1},{"n":5610,"depth":0.05},{"n":5619.5,"depth":-0.61},{"n":5625,"depth":0.05},{"n":5640,"depth":-0.1},{"n":5655,"depth":0.12},{"n":5670,"depth":-0.1},{"n":5682,"depth":0.08},{"n":5686,"depth":0.0},{"n":5688,"depth":19.8},{"n":5690,"depth":0.0},{"n":5700,"depth":-0.15},{"n":5710,"depth":0.1},{"n":5718,"depth":-0.12},{"n":5723,"depth":-0.05}]
},
"vconcat":[
{"width":1471,"height":147,"title":"(a)","view":{"fill":"#161869","stroke":"#d8d8e2","strokeWidth":1.3},
 "data":{"name":"a"},
 "mark":{"type":"line","color":"#ffffff","strokeWidth":1.5,"strokeJoin":"round","clip":true},
 "encoding":{
  "x":{"field":"n","type":"quantitative","scale":{"domain":[-113,5836],"nice":false,"zero":false},"axis":null},
  "y":{"field":"depth","type":"quantitative","scale":{"domain":[-4.72,44.83],"reverse":true,"nice":false,"zero":false},"axis":{"values":[0,20,40],"title":"Depth (m)"}}}},
{"width":1471,"height":147,"title":"(b)","view":{"fill":"#131458","stroke":"#d8d8e2","strokeWidth":1.3},
 "data":{"name":"b"},
 "mark":{"type":"line","color":"#ffffff","strokeWidth":1.5,"strokeJoin":"round","clip":true},
 "encoding":{
  "x":{"field":"n","type":"quantitative","scale":{"domain":[-113,5836],"nice":false,"zero":false},"axis":null},
  "y":{"field":"depth","type":"quantitative","scale":{"domain":[-4.72,44.83],"reverse":true,"nice":false,"zero":false},"axis":{"values":[0,20,40],"title":"Depth (m)"}}}},
{"width":1471,"height":147,"title":"(c)","view":{"fill":"#0f1046","stroke":"#d8d8e2","strokeWidth":1.3},
 "data":{"name":"c"},
 "mark":{"type":"line","color":"#ffffff","strokeWidth":1.4,"strokeJoin":"round","clip":true},
 "encoding":{
  "x":{"field":"n","type":"quantitative","scale":{"domain":[-113,5836],"nice":false,"zero":false},"axis":null},
  "y":{"field":"depth","type":"quantitative","scale":{"domain":[-0.5,2.0],"reverse":true,"nice":false,"zero":false},"axis":{"values":[0,2],"title":"Depth (m)"}}}},
{"width":1471,"height":147,"title":"(d)","view":{"fill":"#0c0c34","stroke":"#d8d8e2","strokeWidth":1.3},
 "data":{"name":"d"},
 "mark":{"type":"line","color":"#ffffff","strokeWidth":1.3,"strokeJoin":"round","clip":true},
 "encoding":{
  "x":{"field":"n","type":"quantitative","scale":{"domain":[-113,5836],"nice":false,"zero":false},"axis":{"values":[0,2000,4000],"title":"Measurement number"}},
  "y":{"field":"depth","type":"quantitative","scale":{"domain":[-5,5],"reverse":true,"nice":false,"zero":false},"axis":{"values":[-4,-2,0,2,4],"title":"Depth (m)"}}}}
]
}
